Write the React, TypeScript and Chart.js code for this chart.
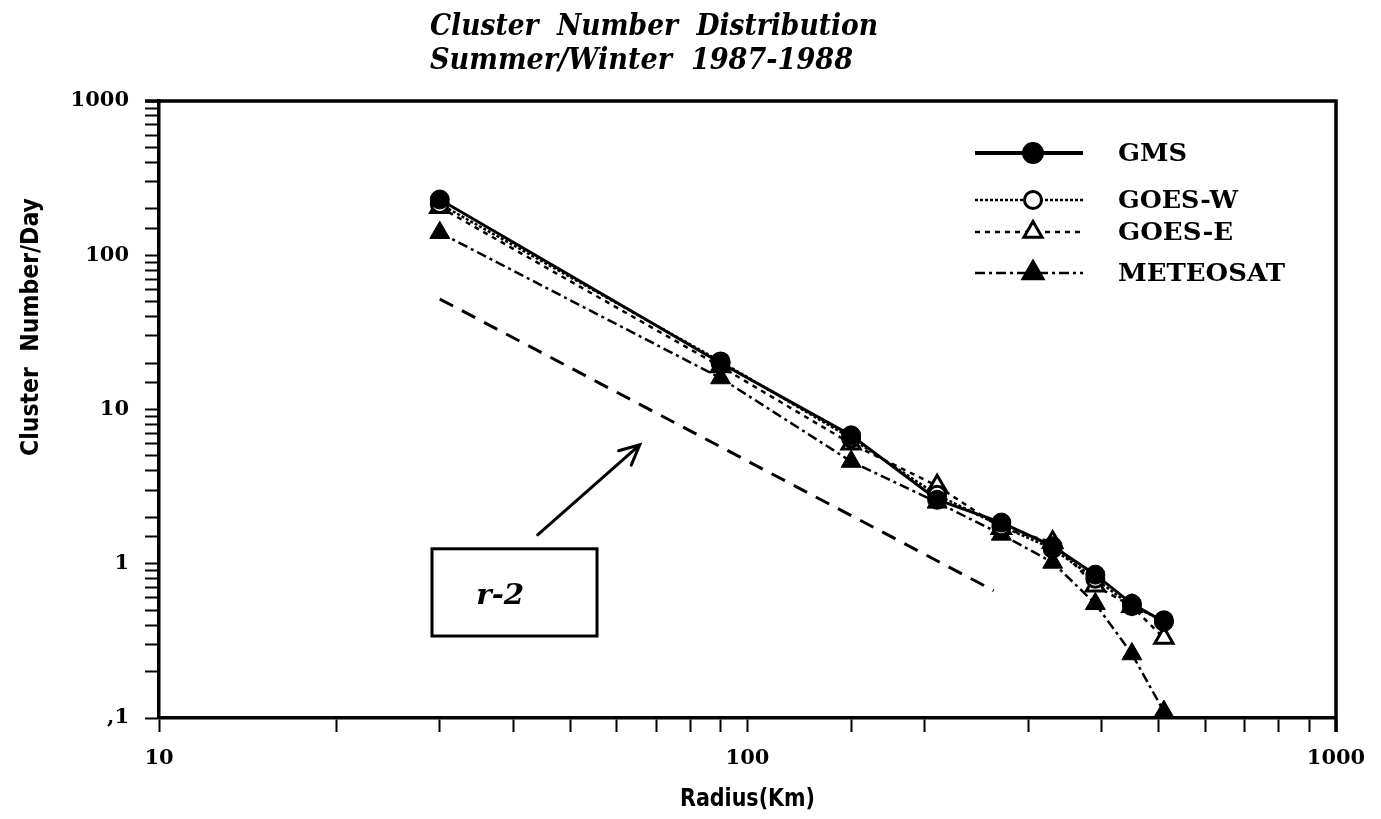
import React, { useEffect, useRef } from 'react';
import { Chart, registerables } from 'chart.js';

Chart.register(...registerables);

// ---- data ----
const radii = [30, 90, 150, 210, 270, 330, 390, 450, 510];
const gms = [230, 20, 6.8, 2.6, 1.85, 1.3, 0.85, 0.55, 0.42];
const goesW = [215, 20.5, 6.5, 2.8, 1.75, 1.25, 0.8, 0.53, 0.43];
const goesE = [205, 19, 6.0, 3.2, 1.7, 1.38, 0.72, 0.53, 0.33];
const meteosat = [140, 16, 4.6, 2.5, 1.55, 1.02, 0.55, 0.26, 0.11];

const refLineX = [30, 262];
const refLineY = [52, 0.67];

const seriesNames = ['GMS', 'GOES-W', 'GOES-E', 'METEOSAT'];
const xTickValues = [10, 100, 1000];
const xTickLabels = ['10', '100', '1000'];
const yTickValues = [0.1, 1, 10, 100, 1000];
const yTickLabels = [',1', '1', '10', '100', '1000'];

const titleLines = ['Cluster  Number  Distribution', 'Summer/Winter  1987-1988'];
const xAxisTitle = 'Radius(Km)';
const yAxisTitle = 'Cluster  Number/Day';

// annotation anchors (data coordinates)
const arrowFrom = [44, 1.54];
const arrowTo = [65.6, 5.9];
const boxX = [29.1, 55.5];
const boxY = [1.25, 0.34];
const boxText = 'r-2';
const boxTextAt = [38, 0.61];

const styles = [
  { dash: [] as number[], width: 3, point: 'circle', fill: '#000', r: 9.5 },
  { dash: [3, 2], width: 2.5, point: 'circle', fill: '#fff', r: 8.5 },
  { dash: [5, 5], width: 2.5, point: 'triangle', fill: '#fff', r: 10.5 },
  { dash: [10, 4, 3, 4], width: 2.5, point: 'triangle', fill: '#000', r: 11.5 },
];
const seriesValues = [gms, goesW, goesE, meteosat];

function isPow10(v: number) {
  const l = Math.log10(v);
  return Math.abs(l - Math.round(l)) < 1e-9;
}

function labelFor(values: number[], labels: string[], v: number) {
  for (let i = 0; i < values.length; i++) {
    if (Math.abs(values[i] - v) / values[i] < 1e-6) return labels[i];
  }
  return '';
}

function stretchText(
  ctx: CanvasRenderingContext2D,
  text: string,
  x: number,
  y: number,
  font: string,
  targetWidth: number,
  align: CanvasTextAlign,
  rotate = 0
) {
  ctx.save();
  ctx.font = font;
  const w = ctx.measureText(text).width;
  const s = targetWidth > 0 ? targetWidth / w : 1;
  ctx.translate(x, y);
  if (rotate) ctx.rotate(rotate);
  ctx.scale(s, 1);
  ctx.textAlign = align;
  ctx.textBaseline = 'middle';
  ctx.fillStyle = '#000';
  ctx.fillText(text, 0, 0);
  ctx.restore();
}

function drawMarker(ctx: CanvasRenderingContext2D, kind: string, x: number, y: number, r: number, fill: string) {
  ctx.save();
  ctx.setLineDash([]);
  ctx.beginPath();
  if (kind === 'circle') {
    ctx.arc(x, y, r, 0, Math.PI * 2);
  } else {
    let a = 0;
    ctx.moveTo(x + Math.sin(a) * r, y - Math.cos(a) * r);
    a += (Math.PI * 2) / 3;
    ctx.lineTo(x + Math.sin(a) * r, y - Math.cos(a) * r);
    a += (Math.PI * 2) / 3;
    ctx.lineTo(x + Math.sin(a) * r, y - Math.cos(a) * r);
    ctx.closePath();
  }
  ctx.fillStyle = fill;
  ctx.fill();
  ctx.lineWidth = 3;
  ctx.strokeStyle = '#000';
  ctx.stroke();
  ctx.restore();
}

const overlayPlugin = {
  id: 'overlay',
  afterDraw(chart: any) {
    const ctx: CanvasRenderingContext2D = chart.ctx;
    const { left, right, top, bottom } = chart.chartArea;
    const xs = chart.scales.x;
    const ys = chart.scales.y;

    // frame (top and right)
    ctx.save();
    ctx.strokeStyle = '#000';
    ctx.lineWidth = 3.5;
    ctx.beginPath();
    ctx.moveTo(left - 14, top);
    ctx.lineTo(right, top);
    ctx.lineTo(right, bottom + 14);
    ctx.stroke();
    ctx.restore();

    // title
    const titleFont = 'italic bold 30px "DejaVu Serif"';
    stretchText(ctx, titleLines[0], 422, 19, titleFont, 448, 'left');
    stretchText(ctx, titleLines[1], 422, 53, titleFont, 423, 'left');

    // axis titles
    stretchText(ctx, yAxisTitle, 24, 319, 'bold 24px "DejaVu Sans"', 258, 'center', -Math.PI / 2);
    stretchText(ctx, xAxisTitle, (left + right) / 2, 792, 'bold 24px "DejaVu Sans"', 135, 'center');

    // legend
    const rowsY = [145, 192, 224, 265];
    const textW = [69, 120, 115, 167];
    for (let i = 0; i < seriesNames.length; i++) {
      const st = styles[i];
      const y = rowsY[i];
      ctx.save();
      ctx.strokeStyle = '#000';
      ctx.lineWidth = i === 0 ? 4 : st.width;
      ctx.setLineDash(st.dash);
      ctx.beginPath();
      ctx.moveTo(967, y);
      ctx.lineTo(1075, y);
      ctx.stroke();
      ctx.restore();
      drawMarker(ctx, st.point, 1025, y, st.r, st.fill);
      stretchText(ctx, seriesNames[i], 1110, y + 1, 'bold 25px "DejaVu Serif"', textW[i], 'left');
    }

    // r-2 box
    const bx0 = xs.getPixelForValue(boxX[0]);
    const bx1 = xs.getPixelForValue(boxX[1]);
    const by0 = ys.getPixelForValue(boxY[0]);
    const by1 = ys.getPixelForValue(boxY[1]);
    ctx.save();
    ctx.strokeStyle = '#000';
    ctx.lineWidth = 3;
    ctx.strokeRect(bx0, by0, bx1 - bx0, by1 - by0);
    ctx.restore();
    stretchText(
      ctx,
      boxText,
      xs.getPixelForValue(boxTextAt[0]),
      ys.getPixelForValue(boxTextAt[1]),
      'italic bold 28px "DejaVu Serif"',
      48,
      'center'
    );

    // arrow
    const ax0 = xs.getPixelForValue(arrowFrom[0]);
    const ay0 = ys.getPixelForValue(arrowFrom[1]);
    const ax1 = xs.getPixelForValue(arrowTo[0]);
    const ay1 = ys.getPixelForValue(arrowTo[1]);
    const ang = Math.atan2(ay1 - ay0, ax1 - ax0);
    ctx.save();
    ctx.strokeStyle = '#000';
    ctx.lineWidth = 3;
    ctx.lineCap = 'round';
    ctx.beginPath();
    ctx.moveTo(ax0, ay0);
    ctx.lineTo(ax1, ay1);
    const hl = 22;
    const ha = 0.45;
    ctx.moveTo(ax1 - hl * Math.cos(ang - ha), ay1 - hl * Math.sin(ang - ha));
    ctx.lineTo(ax1, ay1);
    ctx.lineTo(ax1 - hl * Math.cos(ang + ha), ay1 - hl * Math.sin(ang + ha));
    ctx.stroke();
    ctx.restore();
  },
};

export default function App() {
  const ref = useRef<HTMLCanvasElement>(null);

  useEffect(() => {
    if (!ref.current) return;
    const datasets: any[] = seriesNames.map((name, i) => {
      const st = styles[i];
      return {
        label: name,
        data: radii.map((x, j) => ({ x, y: seriesValues[i][j] })),
        borderColor: '#000',
        borderWidth: st.width,
        borderDash: st.dash,
        pointStyle: st.point,
        pointRadius: st.r,
        pointBackgroundColor: st.fill,
        pointBorderColor: '#000',
        pointBorderWidth: st.fill === '#000' ? 1 : 3,
        fill: false,
        tension: 0,
      };
    });
    datasets.push({
      label: 'r-2',
      data: refLineX.map((x, j) => ({ x, y: refLineY[j] })),
      borderColor: '#000',
      borderWidth: 3,
      borderDash: [15, 10],
      pointRadius: 0,
      fill: false,
    });

    const chart = new Chart(ref.current, {
      type: 'line',
      data: { datasets },
      options: {
        animation: false,
        responsive: true,
        maintainAspectRatio: false,
        layout: { padding: { top: 93, right: 37, left: 0, bottom: 0 } },
        plugins: { legend: { display: false }, title: { display: false }, tooltip: { enabled: false } },
        scales: {
          x: {
            type: 'logarithmic',
            min: 10,
            max: 1000,
            afterFit: (s: any) => {
              s.height = 93;
              s.paddingLeft = 0;
              s.paddingRight = 0;
            },
            grid: {
              display: true,
              drawOnChartArea: false,
              drawTicks: true,
              tickLength: 14,
              tickWidth: 2,
              tickColor: '#000',
              color: '#000',
            },
            border: { display: true, color: '#000', width: 3.5 },
            ticks: {
              autoSkip: false,
              maxRotation: 0,
              minRotation: 0,
              padding: 14,
              color: '#000',
              font: { family: '"DejaVu Serif"', size: 21, weight: 'bold' },
              callback: (v: any) => (isPow10(Number(v)) ? labelFor(xTickValues, xTickLabels, Number(v)) : ''),
            },
          },
          y: {
            type: 'logarithmic',
            min: 0.1,
            max: 1000,
            afterFit: (s: any) => {
              s.width = 151;
              s.paddingTop = 0;
              s.paddingBottom = 0;
            },
            grid: {
              display: true,
              drawOnChartArea: false,
              drawTicks: true,
              tickLength: 14,
              tickWidth: 2,
              tickColor: '#000',
              color: '#000',
            },
            border: { display: true, color: '#000', width: 3.5 },
            ticks: {
              autoSkip: false,
              padding: 16,
              color: '#000',
              font: { family: '"DejaVu Serif"', size: 21, weight: 'bold' },
              callback: (v: any) => (isPow10(Number(v)) ? labelFor(yTickValues, yTickLabels, Number(v)) : ''),
            },
          },
        },
      } as any,
      plugins: [overlayPlugin],
    });
    return () => chart.destroy();
  }, []);

  return (
    <div style={{ width: 1365, height: 803, position: 'relative' }}>
      <canvas ref={ref} />
    </div>
  );
}
